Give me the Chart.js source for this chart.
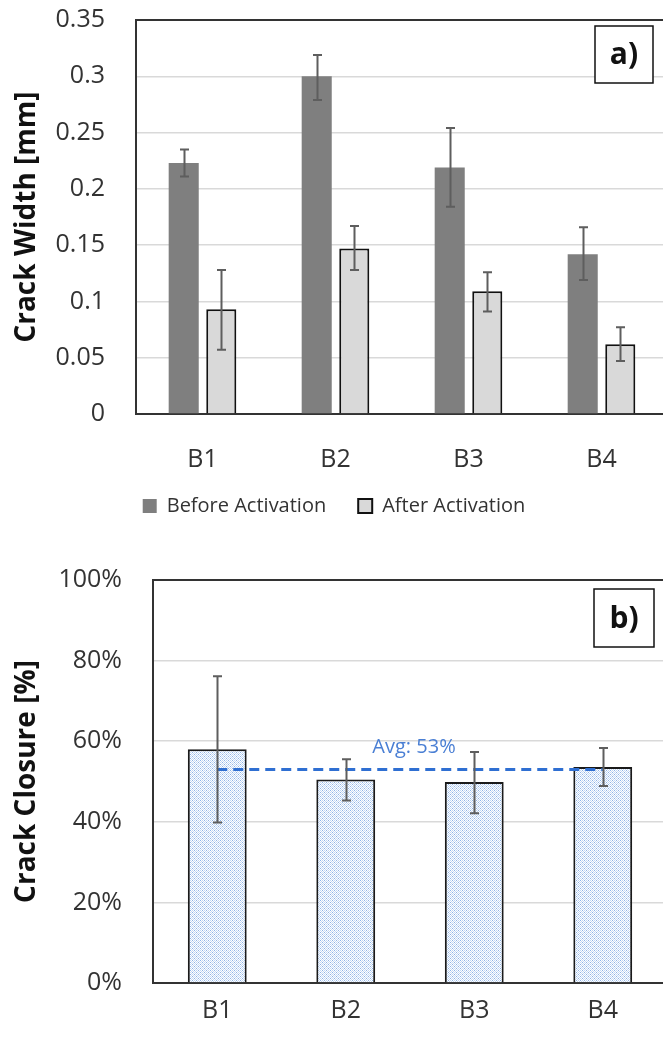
<!DOCTYPE html>
<html>
<head>
<meta charset="utf-8">
<script src="https://cdn.jsdelivr.net/npm/chart.js@4.4.1/dist/chart.umd.min.js"></script>
<style>
  html, body { margin: 0; padding: 0; background: #fff; overflow: hidden; width: 663px; height: 1038px; }
  #panelA { position: absolute; left: 0; top: 0; width: 680px; height: 545px; }
  #panelB { position: absolute; left: 0; top: 540px; width: 680px; height: 498px; }
</style>
</head>
<body>
<div id="panelA"><canvas id="widthChart"></canvas></div>
<div id="panelB"><canvas id="closureChart"></canvas></div>
<script>
// Beams tested
const categories = ['B1', 'B2', 'B3', 'B4'];

// Crack width [mm] with error bar limits
const beforeActivation = [0.223, 0.300, 0.219, 0.142];
const beforeErrHigh    = [0.235, 0.319, 0.254, 0.166];
const beforeErrLow     = [0.211, 0.279, 0.184, 0.119];
const afterActivation  = [0.093, 0.147, 0.109, 0.062];
const afterErrHigh     = [0.128, 0.167, 0.126, 0.077];
const afterErrLow      = [0.057, 0.128, 0.091, 0.047];
const widthTickLabels  = ['0', '0.05', '0.1', '0.15', '0.2', '0.25', '0.3', '0.35'];

// Crack closure [%] with error bar limits and mean
const crackClosure     = [58.0, 50.5, 49.9, 53.6];
const closureErrHigh   = [76.1, 55.5, 57.3, 58.3];
const closureErrLow    = [39.8, 45.3, 42.1, 48.9];
const closureAverage   = [53, 53, 53, 53];
const closureTickLabels = ['0%', '20%', '40%', '60%', '80%', '100%'];

const FONT = "'Open Sans', 'Noto Sans', sans-serif";
const TEXT = '#333333';

// Whisker drawing for datasets that carry errHigh / errLow
const errorBarPlugin = {
  id: 'errorBars',
  afterDatasetsDraw(chart, args, opts) {
    const ctx = chart.ctx;
    chart.data.datasets.forEach((ds, di) => {
      if (!ds.errHigh) return;
      const meta = chart.getDatasetMeta(di);
      const ys = chart.scales[meta.yAxisID];
      ctx.save();
      ctx.strokeStyle = opts.color;
      ctx.lineWidth = opts.width;
      meta.data.forEach((el, j) => {
        const x = Math.round(el.x) + 0.5;
        const y1 = ys.getPixelForValue(ds.errHigh[j]);
        const y2 = ys.getPixelForValue(ds.errLow[j]);
        ctx.beginPath();
        ctx.moveTo(x, y1); ctx.lineTo(x, y2);
        ctx.moveTo(x - opts.cap, y1); ctx.lineTo(x + opts.cap, y1);
        ctx.moveTo(x - opts.cap, y2); ctx.lineTo(x + opts.cap, y2);
        ctx.stroke();
      });
      ctx.restore();
    });
  }
};

// Plot-area frame
const framePlugin = {
  id: 'frame',
  beforeDatasetsDraw(chart, args, opts) {
    const { left, right, top, bottom } = chart.chartArea;
    const ctx = chart.ctx;
    ctx.save();
    ctx.strokeStyle = opts.color;
    ctx.lineWidth = opts.width;
    ctx.strokeRect(left, top, right - left, bottom - top);
    ctx.restore();
  }
};

// Boxed panel tag in the upper-right corner
const panelTagPlugin = {
  id: 'panelTag',
  afterDraw(chart, args, opts) {
    const { right, top } = chart.chartArea;
    const ctx = chart.ctx;
    const x = right - opts.dx, y = top + opts.dy;
    ctx.save();
    ctx.fillStyle = '#fff';
    ctx.fillRect(x, y, opts.w, opts.h);
    ctx.strokeStyle = '#111';
    ctx.lineWidth = 1.5;
    ctx.strokeRect(x, y, opts.w, opts.h);
    ctx.fillStyle = '#111';
    ctx.font = "bold 30px " + FONT;
    ctx.textAlign = 'center';
    ctx.textBaseline = 'middle';
    ctx.fillText(opts.text, x + opts.w / 2, y + opts.h / 2 + 1);
    ctx.restore();
  }
};

// Label for the mean line
const meanLabelPlugin = {
  id: 'meanLabel',
  afterDatasetsDraw(chart, args, opts) {
    if (!opts.text) return;
    const xs = chart.scales.x, ys = chart.scales.y;
    const x = (xs.getPixelForValue(1) + xs.getPixelForValue(2)) / 2 + 4;
    const y = ys.getPixelForValue(closureAverage[0]) - 16;
    const ctx = chart.ctx;
    ctx.save();
    ctx.fillStyle = '#4a7fd4';
    ctx.font = "20px " + FONT;
    ctx.textAlign = 'center';
    ctx.textBaseline = 'alphabetic';
    ctx.fillText(opts.text, x, y);
    ctx.restore();
  }
};

// Light blue lattice fill
function makeLattice() {
  const c = document.createElement('canvas');
  c.width = 8; c.height = 8;
  const g = c.getContext('2d');
  g.fillStyle = '#ffffff';
  g.fillRect(0, 0, 8, 8);
  for (let y = 0; y < 8; y++) {
    for (let x = 0; x < 8; x++) {
      if ((x + y) % 2 === 0) { g.fillStyle = '#c3d8f4'; g.fillRect(x, y, 1, 1); }
      if ((x % 4 === 0 && y % 4 === 0) || (x % 4 === 2 && y % 4 === 2)) { g.fillStyle = '#8fb3e6'; g.fillRect(x, y, 1, 1); }
    }
  }
  return g.createPattern(c, 'repeat');
}

Chart.defaults.font.family = FONT;
Chart.defaults.color = TEXT;

function yTitle(text) {
  return { display: true, text, color: '#111', font: { family: FONT, size: 28, weight: 'bold' }, padding: { top: 10, bottom: 0 } };
}

// Category labels may overhang the axis box into the legend band
function categoryAxisFit(height) {
  return function (s) {
    s.height = height;
    s._computeLabelArea = () => undefined;
  };
}

new Chart(document.getElementById('widthChart'), {
  type: 'bar',
  data: {
    labels: categories,
    datasets: [
      { label: 'Before Activation', data: beforeActivation, errHigh: beforeErrHigh, errLow: beforeErrLow,
        backgroundColor: '#7f7f7f', borderWidth: 0, barPercentage: 0.8, categoryPercentage: 0.565 },
      { label: 'After Activation', data: afterActivation, errHigh: afterErrHigh, errLow: afterErrLow,
        backgroundColor: '#d9d9d9', borderColor: '#111', borderWidth: 2, barPercentage: 0.8, categoryPercentage: 0.565 }
    ]
  },
  options: {
    responsive: true, maintainAspectRatio: false, animation: false, devicePixelRatio: 1,
    layout: { padding: { top: 20, right: 12, left: 0, bottom: 19 } },
    scales: {
      x: {
        grid: { display: false }, border: { display: false },
        ticks: { font: { size: 25 }, color: TEXT, padding: 23 },
        afterFit: categoryAxisFit(50)
      },
      y: {
        min: 0, max: 0.35,
        grid: { color: '#d9d9d9', lineWidth: 1.5, drawTicks: false }, border: { display: false },
        ticks: { stepSize: 0.05, font: { size: 25 }, color: TEXT, padding: 31,
                 callback: (v, i) => widthTickLabels[i] },
        title: yTitle('Crack Width [mm]'),
        afterFit(s) { s.width = 136; s.paddingTop = 8; s.paddingBottom = 8; }
      }
    },
    plugins: {
      legend: {
        position: 'bottom',
        labels: { boxWidth: 14, boxHeight: 14, padding: 32, font: { size: 20 }, color: TEXT }
      },
      tooltip: { enabled: false },
      errorBars: { color: '#5e5e5e', width: 2, cap: 4.5 },
      frame: { color: '#333', width: 2 },
      panelTag: { text: 'a)', dx: 73, dy: 6, w: 58, h: 57 }
    }
  },
  plugins: [framePlugin, errorBarPlugin, panelTagPlugin]
});

new Chart(document.getElementById('closureChart'), {
  type: 'bar',
  data: {
    labels: categories,
    datasets: [
      { type: 'line', label: 'Average', data: closureAverage, order: 0,
        borderColor: '#2f6fd2', borderWidth: 3, borderDash: [10, 6], pointRadius: 0, fill: false },
      { label: 'Crack Closure', data: crackClosure, errHigh: closureErrHigh, errLow: closureErrLow, order: 1,
        backgroundColor: makeLattice(), borderColor: '#1a1a1a', borderWidth: 2,
        barPercentage: 1, categoryPercentage: 0.458 }
    ]
  },
  options: {
    responsive: true, maintainAspectRatio: false, animation: false, devicePixelRatio: 1,
    layout: { padding: { top: 40, right: 13, left: 0, bottom: 0 } },
    scales: {
      x: {
        grid: { display: false }, border: { display: false },
        ticks: { font: { size: 25 }, color: TEXT, padding: 5 },
        afterFit: categoryAxisFit(55)
      },
      y: {
        min: 0, max: 100,
        grid: { color: '#d9d9d9', lineWidth: 1.5, drawTicks: false }, border: { display: false },
        ticks: { stepSize: 20, font: { size: 25 }, color: TEXT, padding: 31,
                 callback: (v, i) => closureTickLabels[i] },
        title: yTitle('Crack Closure [%]'),
        afterFit(s) { s.width = 153; s.paddingTop = 8; s.paddingBottom = 8; }
      }
    },
    plugins: {
      legend: { display: false },
      tooltip: { enabled: false },
      errorBars: { color: '#5e5e5e', width: 2, cap: 4.5 },
      frame: { color: '#333', width: 2 },
      panelTag: { text: 'b)', dx: 73, dy: 9, w: 60, h: 58 },
      meanLabel: { text: 'Avg: 53%' }
    }
  },
  plugins: [framePlugin, errorBarPlugin, panelTagPlugin, meanLabelPlugin]
});
</script>
</body>
</html>
